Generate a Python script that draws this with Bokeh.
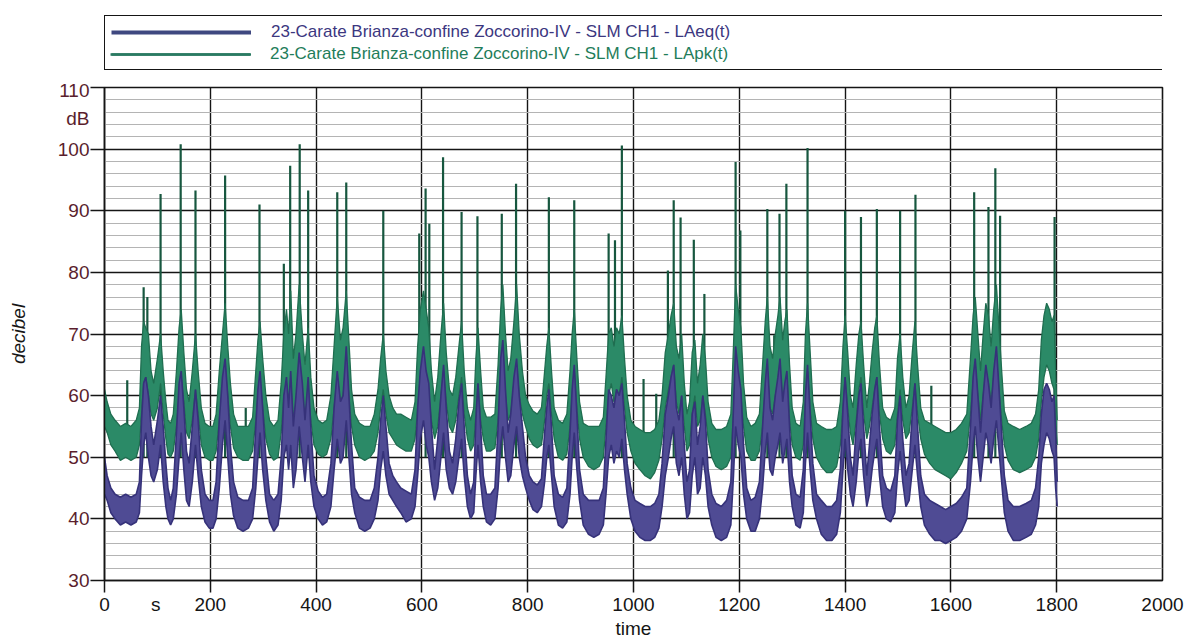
from bokeh.plotting import figure
from bokeh.layouts import column
from bokeh.models import (Range1d, FixedTicker, SingleIntervalTicker, Legend,
                          LegendItem, ColumnDataSource)
from bokeh.embed import file_html
from bokeh.resources import INLINE

# ---------------- data ----------------
t = [0, 5, 12, 20, 30, 40, 50, 60, 66, 70,
     74, 78, 83, 88, 93, 100, 106, 111, 116, 120,
     125, 130, 136, 141, 145, 150, 155, 160, 166, 172,
     177, 183, 190, 198, 205, 211, 217, 223, 228, 233,
     238, 244, 252, 262, 272, 280, 286, 290, 294, 299,
     305, 312, 320, 328, 334, 339, 344, 348, 352, 357,
     362, 368, 374, 379, 385, 390, 396, 404, 412, 420,
     428, 434, 440, 446, 451, 457, 462, 467, 473, 482,
     492, 502, 510, 517, 522, 527, 532, 538, 545, 552,
     560, 570, 580, 587, 592, 597, 603, 608, 613, 618,
     624, 630, 636, 641, 646, 652, 658, 664, 670, 675,
     680, 686, 692, 698, 702, 706, 711, 716, 722, 730,
     738, 744, 749, 753, 758, 763, 768, 774, 779, 784,
     790, 796, 803, 810, 818, 826, 832, 836, 840, 845,
     850, 858, 866, 874, 880, 884, 888, 893, 898, 905,
     915, 925, 935, 943, 948, 953, 958, 963, 968, 973,
     978, 983, 988, 995, 1003, 1012, 1022, 1032, 1040, 1048,
     1054, 1060, 1066, 1071, 1076, 1081, 1086, 1091, 1096, 1101,
     1106, 1111, 1116, 1121, 1126, 1131, 1136, 1141, 1148, 1156,
     1166, 1176, 1184, 1189, 1193, 1198, 1203, 1208, 1214, 1222,
     1230, 1238, 1244, 1249, 1253, 1258, 1263, 1268, 1273, 1277,
     1282, 1286, 1290, 1295, 1300, 1307, 1315, 1321, 1325, 1329,
     1334, 1339, 1346, 1355, 1365, 1375, 1384, 1391, 1396, 1400,
     1405, 1410, 1415, 1421, 1426, 1430, 1435, 1441, 1446, 1451,
     1456, 1460, 1465, 1471, 1478, 1486, 1494, 1499, 1504, 1509,
     1515, 1521, 1527, 1532, 1537, 1543, 1550, 1560, 1570, 1580,
     1590, 1600, 1610, 1620, 1630, 1637, 1642, 1646, 1651, 1656,
     1661, 1666, 1671, 1676, 1681, 1686, 1691, 1696, 1701, 1708,
     1718, 1730, 1742, 1752, 1760, 1766, 1771, 1776, 1781, 1786,
     1791, 1795, 1798, 1801]

laeq_lo = [44, 43, 41, 40, 39, 39.5, 39, 39.5, 41, 47,
           52, 54, 50, 47, 46, 48, 52, 46, 42, 40,
           39, 40, 44, 50, 54, 48, 43, 42, 46, 52,
           47, 42, 39.5, 38.5, 38.5, 40, 45, 52, 56, 50,
           44, 40.5, 38.5, 38, 38.5, 40, 45, 50, 54, 48,
           43, 39.5, 38, 39, 43, 50, 52, 48, 52, 45,
           48, 55, 50, 46, 52, 46, 42, 40, 39, 39.5,
           42, 48, 53, 49, 50, 56, 50, 44, 41, 38.5,
           38, 38.5, 40, 43, 48, 51, 47, 44, 43, 42,
           41, 39.5, 40, 42, 47, 53, 56, 52, 50, 46,
           43, 45, 50, 54, 48, 45, 44, 46, 50, 53,
           47, 42, 40, 41, 47, 52, 46, 42, 39.5, 39,
           40, 45, 52, 55, 50, 46, 47, 52, 55, 50,
           47, 45, 43, 41.5, 41, 42, 46, 50, 52, 47,
           42, 39, 38.5, 39.5, 44, 50, 54, 48, 43, 39,
           37.5, 37, 37.5, 39, 44, 50, 52, 49, 51, 50,
           53, 48, 44, 40, 38, 37, 36.5, 36.5, 37, 38.5,
           42, 47, 50, 53, 55, 49, 47, 50, 44, 40,
           41, 47, 50, 44, 45, 50, 47, 42, 39, 37,
           36.5, 37, 39, 47, 55, 52, 50, 44, 40, 38,
           38, 40, 45, 51, 54, 48, 47, 50, 52, 54,
           49, 51, 53, 46, 42, 39, 38.5, 41, 49, 54,
           48, 43, 40, 37.5, 36.5, 36.5, 37.5, 41, 48, 53,
           48, 44, 42, 46, 51, 53, 47, 42, 44, 48,
           51, 53, 47, 42, 40, 39.5, 41, 47, 51, 46,
           42, 43, 48, 52, 47, 42, 39, 37.5, 36.5, 36.5,
           36, 36.5, 37, 38, 40, 46, 52, 55, 50, 46,
           50, 54, 52, 49, 53, 56, 51, 46, 41, 38,
           36.5, 36.5, 37, 37.5, 39, 42, 49, 52, 54, 53,
           51, 50, 45, 42]

laeq_hi = [50, 47, 45, 44, 43.5, 44, 43.5, 44, 46, 56,
           62, 63, 60, 55, 52, 56, 60, 55, 49, 45,
           43, 45, 54, 62, 64, 58, 51, 49, 55, 61,
           56, 48, 44, 43, 43, 46, 56, 63, 66, 60,
           52, 46, 43.5, 43, 43, 45, 55, 61, 64, 58,
           50, 44, 43, 44, 50, 60, 63, 58, 64, 55,
           60, 67, 62, 56, 63, 55, 47, 44.5, 43.5, 44,
           49, 58, 64, 59, 60, 68, 60, 52, 45, 43.5,
           43, 43, 45, 50, 56, 60, 55, 49, 47, 46,
           45, 44.5, 44, 48, 58, 64, 68, 64, 62, 55,
           48, 53, 60, 65, 58, 51, 49, 53, 59, 62,
           55, 47, 44, 46, 56, 62, 55, 47, 44, 44,
           45, 55, 66, 69, 61, 54, 57, 63, 66, 60,
           55, 50, 47, 46, 45.5, 46.5, 54, 58, 61, 55,
           47, 44, 43.5, 45, 54, 61, 65, 57, 48, 44,
           43, 43, 43, 45, 53, 61, 60, 58, 61, 60,
           62, 56, 49, 45, 43, 42.5, 42, 42, 42.5, 44,
           49, 57, 60, 63, 65, 58, 56, 60, 52, 46,
           48, 57, 59, 52, 55, 60, 56, 48, 44, 42.5,
           42, 43, 46, 58, 68, 64, 61, 52, 45, 43,
           43.5, 46, 55, 62, 66, 58, 56, 60, 63, 66,
           59, 62, 64, 55, 47, 44, 43.5, 48, 60, 65,
           57, 49, 44, 43, 42, 42, 43, 48, 58, 63,
           57, 50, 47, 55, 60, 62, 55, 47, 52, 57,
           61, 63, 55, 47, 45, 44.5, 47, 56, 60, 53,
           47, 49, 57, 62, 55, 47, 44, 43, 42.5, 42,
           41.5, 42, 42.5, 43.5, 45, 55, 63, 66, 60, 54,
           60, 65, 62, 58, 64, 68, 61, 54, 47, 43,
           42, 42, 42.5, 43, 45, 50, 57, 61, 62, 61,
           59, 60, 54, 46]

lapk_lo = [55, 54, 52, 51, 49.5, 50, 49.5, 50, 52, 57,
           62, 63, 60, 57, 56, 58, 62, 57, 53, 50.5,
           50, 51, 55, 60, 63, 59, 54, 53, 56, 61,
           57, 52, 50, 49.5, 49.5, 51, 56, 61, 65, 60,
           55, 51.5, 50, 49.5, 49.5, 51, 56, 60, 63, 58,
           53, 50.5, 49.5, 50, 54, 60, 62, 59, 62, 56,
           59, 65, 60, 56, 61, 56, 52, 50.5, 50, 50.5,
           53, 58, 63, 59, 60, 65, 60, 55, 52, 50,
           49.5, 50, 51, 54, 58, 61, 57, 54, 53, 52,
           51.5, 51, 51, 53, 58, 63, 66, 62, 60, 56,
           53, 55, 60, 64, 59, 55, 54, 56, 60, 63,
           57, 53, 51, 52, 57, 62, 56, 53, 51, 51,
           51.5, 56, 62, 65, 60, 56, 57, 62, 65, 60,
           57, 55, 53, 52, 51.5, 52, 56, 60, 62, 57,
           53, 50, 49.5, 50.5, 55, 60, 64, 58, 53, 50,
           48.5, 48, 48.5, 50, 55, 60, 62, 59, 61, 60,
           63, 58, 54, 51, 49, 48, 47, 46.5, 47.5, 49.5,
           53, 58, 61, 63, 65, 59, 57, 60, 55, 51,
           52, 57, 60, 55, 56, 60, 57, 53, 50, 48.5,
           48, 48.5, 50, 57, 65, 62, 60, 55, 51, 49.5,
           49.5, 51, 55, 61, 64, 58, 57, 60, 62, 64,
           59, 61, 63, 56, 52, 50, 49.5, 52, 59, 64,
           58, 53, 50, 48.5, 47.5, 47.5, 48.5, 52, 58, 63,
           58, 54, 52, 56, 61, 63, 57, 53, 55, 58,
           61, 63, 57, 53, 51, 50.5, 52, 57, 61, 56,
           53, 54, 58, 62, 57, 53, 50.5, 49, 48, 47.5,
           47, 46.5, 47.5, 49, 51, 57, 62, 65, 60, 56,
           60, 64, 62, 59, 63, 66, 61, 56, 52, 49.5,
           48, 47.5, 48, 48.5, 50, 53, 59, 63, 65, 64,
           62, 61, 56, 52]

lapk_hi = [61, 59, 57, 56, 55, 55.5, 55, 56, 58, 68,
           72, 71, 70, 64, 62, 66, 70, 64, 59, 56,
           55.5, 57, 64, 71, 74, 67, 61, 59, 64, 70,
           64, 58, 55.5, 55, 55, 57, 64, 70, 75, 68,
           62, 57, 55, 55, 55, 56.5, 64, 69, 72, 66,
           60, 56, 55, 56, 62, 70, 74, 70, 77, 66,
           70, 78, 70, 65, 71, 63, 58, 56, 55.5, 56,
           60, 68, 76, 69, 71, 77, 69, 61, 57, 55.5,
           55, 55, 57, 61, 66, 70, 64, 60, 58, 57,
           57, 56.5, 56, 59, 68, 74, 77, 74, 71, 64,
           59, 63, 70, 75, 67, 61, 60, 63, 68, 72,
           64, 58, 56, 58, 66, 71, 64, 58, 56.5, 56.5,
           57, 65, 74, 78, 70, 64, 66, 72, 78, 70,
           64, 60, 58.5, 57.5, 57, 58, 64, 68, 71, 64,
           58, 56, 55.5, 57, 64, 70, 74, 66, 59, 55.5,
           55, 55, 55, 56.5, 63, 70, 71, 68, 71, 70,
           73, 66, 60, 56, 55, 54.5, 54, 54, 54.5, 56,
           60, 67, 70, 73, 75, 68, 66, 70, 62, 57,
           59, 67, 69, 62, 65, 70, 66, 59, 55.5, 54.5,
           54.5, 55, 57, 68, 78, 74, 71, 62, 56.5, 55,
           55.5, 57, 65, 72, 76, 68, 66, 70, 73, 76,
           69, 72, 74, 65, 58, 55.5, 55, 59, 70, 75,
           67, 59, 55.5, 55, 54.5, 54.5, 55, 59, 68, 73,
           67, 60, 58, 65, 70, 72, 65, 58, 62, 67,
           71, 73, 65, 58, 56.5, 56, 58, 66, 70, 63,
           58, 60, 67, 72, 65, 58, 56, 55.5, 55, 54.5,
           54, 54, 54.5, 55.5, 57, 66, 73, 76, 70, 64,
           70, 75, 73, 68, 74, 78, 71, 64, 57.5, 55.5,
           55, 54.5, 55, 55.5, 57, 61, 69, 73, 75, 74,
           72, 73, 64, 56]

# narrow LApk peaks (time in s, level in dB)
spike_t = [43, 74, 81, 106, 144, 172, 228, 267, 293, 339,
           351, 369, 385, 440, 457, 527, 595, 607, 614, 640,
           675, 705, 751, 778, 840, 888, 953, 965, 978, 1019,
           1043, 1065, 1076, 1089, 1114, 1134, 1193, 1202, 1253, 1266,
           1276, 1289, 1329, 1400, 1430, 1460, 1504, 1533, 1563, 1644,
           1671, 1684, 1693, 1796]
spike_db = [62.5, 77.6, 76, 92.7, 100.8, 93.3, 95.7, 58, 91, 81.4,
            97.3, 100.8, 93.3, 93, 94.6, 90, 86.3, 93.6, 87.9, 98.7,
            89.8, 89.1, 89.5, 94.4, 92.2, 91.7, 86.3, 85.2, 100.6, 62.7,
            60.3, 80.3, 91.7, 88.9, 85.3, 76.5, 97.9, 86.8, 90.3, 69.8,
            89.5, 94.4, 100.2, 90, 89, 90.3, 90, 92.6, 61.6, 93,
            90.6, 96.9, 89.2, 89]

# axis ticks and labels
x_grid = [0, 200, 400, 600, 800, 1000, 1200, 1400, 1600, 1800, 2000]
x_tick_marks = [0, 200, 400, 600, 800, 1000, 1200, 1400, 1600, 1800]
x_unit_pos = 97                      # where the "s" unit sits in the tick row
y_ticks = [30, 40, 50, 60, 70, 80, 90, 100, 110]
y_unit_pos = 105                     # where the "dB" unit sits in the tick column
label_aeq = "23-Carate Brianza-confine Zoccorino-IV - SLM CH1 - LAeq(t)"
label_apk = "23-Carate Brianza-confine Zoccorino-IV - SLM CH1 - LApk(t)"

# ---------------- styling ----------------
FONT = "Liberation Sans"
BLUE = "#4f4b94"
BLUE_EDGE = "#36327a"
BLUE_LEG = "#3f4880"
GREEN = "#2b8a67"
GREEN_EDGE = "#1f6e50"
GREEN_SPIKE = "#17573f"
GREEN_LEG = "#2a7a62"
MAROON = "#5a1e2d"
INK = "#151515"

W = 1190
LEFT, RIGHT = 104, 28
LEG_H = 79

# ---------------- main plot ----------------
p = figure(width=W, height=641 - LEG_H, x_range=Range1d(0, 2000), y_range=Range1d(30, 110),
           output_backend="svg", toolbar_location=None,
           min_border_left=LEFT, min_border_right=RIGHT, min_border_top=8, min_border_bottom=61,
           background_fill_color="white", border_fill_color="white")

src = ColumnDataSource(dict(t=t, aeq_lo=laeq_lo, aeq_hi=laeq_hi, pk_lo=lapk_lo, pk_hi=lapk_hi))
spk = ColumnDataSource(dict(t=spike_t, db=spike_db, base=[50] * len(spike_t)))

p.segment(x0="t", y0="base", x1="t", y1="db", source=spk,
          line_color=GREEN_SPIKE, line_width=2.2)
p.varea(x="t", y1="pk_lo", y2="pk_hi", source=src, fill_color=GREEN, fill_alpha=1)
p.line("t", "pk_hi", source=src, line_color=GREEN_EDGE, line_width=1.3)
p.line("t", "pk_lo", source=src, line_color=GREEN_EDGE, line_width=1.3)
p.varea(x="t", y1="aeq_lo", y2="aeq_hi", source=src, fill_color=BLUE, fill_alpha=1)
p.line("t", "aeq_hi", source=src, line_color=BLUE_EDGE, line_width=1.6)
p.line("t", "aeq_lo", source=src, line_color=BLUE_EDGE, line_width=1.6)

# x axis: labelled ticks (incl. unit "s"), tick marks drawn as minor ticks
p.xaxis.ticker = FixedTicker(ticks=sorted(x_grid + [x_unit_pos]), minor_ticks=x_tick_marks)
p.xaxis.major_label_overrides = {x_unit_pos: "s"}
p.yaxis.ticker = FixedTicker(ticks=sorted(y_ticks + [y_unit_pos]), minor_ticks=y_ticks)
p.yaxis.major_label_overrides = {y_unit_pos: "dB"}

for ax in (p.xaxis[0], p.yaxis[0]):
    ax.axis_line_color = INK
    ax.axis_line_width = 1.5
    ax.major_tick_in = 0
    ax.major_tick_out = 0
    ax.minor_tick_in = 0
    ax.minor_tick_line_color = INK
    ax.minor_tick_line_width = 1.5
    ax.major_label_text_font = FONT
    ax.major_label_text_font_size = "19px"
    ax.axis_label_text_font = FONT
    ax.axis_label_text_font_size = "19px"
    ax.axis_label_text_color = INK

p.xaxis.minor_tick_out = 12
p.xaxis.major_label_standoff = 1
p.xaxis.major_label_text_color = INK
p.xaxis.axis_label = "time"
p.xaxis.axis_label_text_font_style = "normal"
p.xaxis.axis_label_standoff = 0

p.yaxis.minor_tick_out = 14
p.yaxis.major_label_standoff = 1
p.yaxis.major_label_text_color = MAROON
p.yaxis.axis_label = "decibel"
p.yaxis.axis_label_text_font_style = "italic"
p.yaxis.axis_label_standoff = 26

# grid with its own tickers
p.xgrid.ticker = FixedTicker(ticks=x_grid)
p.ygrid.ticker = SingleIntervalTicker(interval=10, num_minor_ticks=5)
p.xgrid.grid_line_color = INK
p.xgrid.grid_line_width = 1.4
p.ygrid.grid_line_color = INK
p.ygrid.grid_line_width = 1.4
p.ygrid.minor_grid_line_color = "#b4b4b4"
p.ygrid.minor_grid_line_width = 1

p.outline_line_color = INK
p.outline_line_width = 1.6
p.outline_line_alpha = 1

# ---------------- legend strip on top ----------------
# the strip's ranges keep its copies of the series out of view; only the legend shows
lg = figure(width=W, height=LEG_H, x_range=Range1d(-2, -1), y_range=Range1d(-2, -1),
            output_backend="svg", toolbar_location=None,
            x_axis_location=None, y_axis_location=None,
            min_border_left=LEFT, min_border_right=RIGHT, min_border_top=0, min_border_bottom=0,
            background_fill_color="white", border_fill_color="white")
lg.grid.visible = False
lg.outline_line_alpha = 0
r_leg_aeq = lg.line("t", "aeq_hi", source=src, line_color=BLUE_LEG, line_width=4)
r_leg_apk = lg.line("t", "pk_hi", source=src, line_color=GREEN_LEG, line_width=2.5)

PAD = 6
common = dict(spacing=3, margin=0, glyph_width=140, glyph_height=18, label_height=18,
              label_standoff=20, label_text_font=FONT, label_text_font_size="17px",
              label_width=886)
legA = Legend(items=[LegendItem(label=label_aeq, renderers=[r_leg_aeq]),
                     LegendItem(label=" ", renderers=[r_leg_apk])],
              location=(0, 9), padding=PAD,
              border_line_color=INK, border_line_width=1.5, border_line_alpha=1,
              background_fill_color="white", background_fill_alpha=1,
              label_text_color="#3c377f", **common)
legB = Legend(items=[LegendItem(label=label_apk, renderers=[r_leg_apk])],
              location=(PAD, 9 + PAD), padding=0,
              border_line_alpha=0, background_fill_alpha=0,
              label_text_color="#1f7d5a", **common)
lg.add_layout(legA)
lg.add_layout(legB)

layout = column(lg, p, spacing=0)
open("out.html", "w").write(file_html(layout, INLINE))
